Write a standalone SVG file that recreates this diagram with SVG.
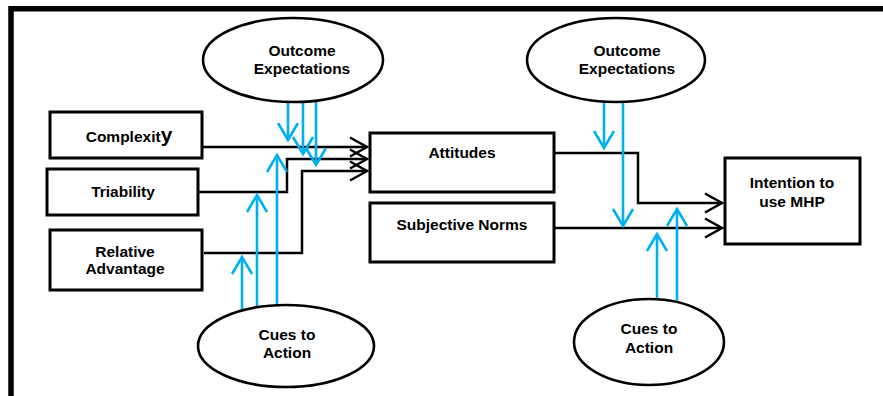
<svg xmlns="http://www.w3.org/2000/svg" width="883" height="396" viewBox="0 0 883 396">
  <style>
    .box { fill: #fff; stroke: #000; stroke-width: 3; }
    .oval { fill: #fff; stroke: #000; stroke-width: 2.6; }
    .lbl { font-family: "Liberation Sans", Arial, sans-serif; font-weight: bold; font-size: 15.5px; fill: #000; text-anchor: middle; }
    .link { fill: none; stroke: #000; stroke-width: 2.5; marker-end: url(#headBlack); }
    .cue { fill: none; stroke: #00b0f0; stroke-width: 2.6; marker-end: url(#headBlue); }
  </style>
  <defs>
    <marker id="headBlack" viewBox="0 0 20 22" refX="18" refY="11" markerWidth="20" markerHeight="22" markerUnits="userSpaceOnUse" orient="auto" overflow="visible">
      <path d="M1,1.5 L18,11 L1,20.5" fill="none" stroke="#000" stroke-width="2.5"/>
    </marker>
    <marker id="headBlue" viewBox="0 0 20 22" refX="18" refY="11" markerWidth="20" markerHeight="22" markerUnits="userSpaceOnUse" orient="auto" overflow="visible">
      <path d="M1,1 L18,11 L1,21" fill="none" stroke="#00b0f0" stroke-width="2.6"/>
    </marker>
  </defs>

  <rect width="883" height="396" fill="#fff"/>
  <!-- outer frame (top and left edges) -->
  <path d="M11,396 V8.8 H883" fill="none" stroke="#000" stroke-width="5.5"/>

  <g id="connectors">
    <path class="link" d="M202,147 H367"/>
    <path class="link" d="M198,192 H287 V159 H367"/>
    <path class="link" d="M204,253 H302 V171 H367"/>
    <path class="link" d="M554,153 H638 V203 H722"/>
    <path class="link" d="M554,228 H722"/>

    <path class="cue" d="M288,102 V140"/>
    <path class="cue" d="M303,102 V154"/>
    <path class="cue" d="M316,102 V165"/>
    <path class="cue" d="M242,310 V257"/>
    <path class="cue" d="M257,308 V195"/>
    <path class="cue" d="M277,306 V155"/>
    <path class="cue" d="M604,102 V148"/>
    <path class="cue" d="M623,102 V226"/>
    <path class="cue" d="M657,300 V234"/>
    <path class="cue" d="M677,302 V209"/>
  </g>

  <g id="outcome-left">
    <ellipse class="oval" cx="293" cy="60" rx="90" ry="42"/>
    <text class="lbl" x="302" y="56">Outcome</text>
    <text class="lbl" x="302" y="74">Expectations</text>
  </g>
  <g id="outcome-right">
    <ellipse class="oval" cx="616" cy="60" rx="89" ry="42"/>
    <text class="lbl" x="627" y="56">Outcome</text>
    <text class="lbl" x="627" y="74">Expectations</text>
  </g>

  <g id="complexity">
    <rect class="box" x="50" y="112" width="152" height="46"/>
    <text class="lbl" x="129" y="142">Complexit<tspan font-size="21px">y</tspan></text>
  </g>
  <g id="triability">
    <rect class="box" x="47" y="169" width="151" height="46"/>
    <text class="lbl" x="123" y="197">Triability</text>
  </g>
  <g id="relative-advantage">
    <rect class="box" x="50" y="230" width="152" height="60"/>
    <text class="lbl" x="125" y="257">Relative</text>
    <text class="lbl" x="125" y="274">Advantage</text>
  </g>

  <g id="attitudes">
    <rect class="box" x="370" y="133" width="184" height="59"/>
    <text class="lbl" x="462" y="158">Attitudes</text>
  </g>
  <g id="subjective-norms">
    <rect class="box" x="370" y="203" width="184" height="59"/>
    <text class="lbl" x="462" y="230">Subjective Norms</text>
  </g>

  <g id="intention">
    <rect class="box" x="725" y="158" width="135" height="86"/>
    <text class="lbl" x="792" y="188">Intention to</text>
    <text class="lbl" x="792" y="207">use MHP</text>
  </g>

  <g id="cues-left">
    <ellipse class="oval" cx="286" cy="346" rx="88" ry="41"/>
    <text class="lbl" x="287" y="340">Cues to</text>
    <text class="lbl" x="287" y="358">Action</text>
  </g>
  <g id="cues-right">
    <ellipse class="oval" cx="649" cy="342" rx="75" ry="43"/>
    <text class="lbl" x="649" y="334">Cues to</text>
    <text class="lbl" x="649" y="353">Action</text>
  </g>
</svg>
